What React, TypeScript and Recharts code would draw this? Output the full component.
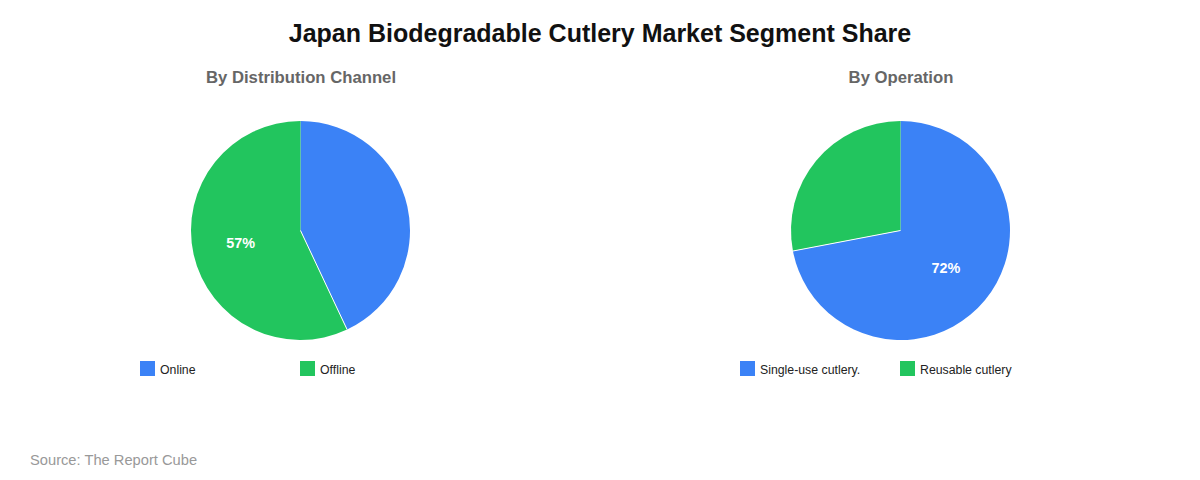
import { Cell, Legend, Pie, PieChart, Sector } from 'recharts';

const FONT = '"Liberation Sans", Arial, sans-serif';
const COLORS = ['#3B82F6', '#22C55E'];
const RADIAN = Math.PI / 180;

const channelNames = ['Online', 'Offline'];
const channelValues = [43, 57];
const operationNames = ['Single-use cutlery.', 'Reusable cutlery'];
const operationValues = [72, 28];

function toRows(names: string[], values: number[]) {
  return names.map((name, i) => ({ name, value: values[i] }));
}

// only the bigger slice carries a label
function renderLabel({ cx, cy, midAngle, outerRadius, percent }: any) {
  if (percent < 0.5) return null;
  const r = outerRadius * 0.55;
  return (
    <text
      x={cx + r * Math.cos(-midAngle * RADIAN) - 1}
      y={cy + r * Math.sin(-midAngle * RADIAN) - 0.5}
      fill="#fff"
      fontFamily={FONT}
      fontSize={14.4}
      fontWeight={700}
      textAnchor="middle"
      dominantBaseline="central"
    >
      {`${Math.round(percent * 100)}%`}
    </text>
  );
}

// white seam only where the second slice starts
function renderSlice(props: any) {
  const { cx, cy, outerRadius, startAngle, index } = props;
  return (
    <g>
      <Sector {...props} stroke="none" />
      {index === 1 && (
        <line
          x1={cx}
          y1={cy}
          x2={cx + outerRadius * Math.cos(-startAngle * RADIAN)}
          y2={cy + outerRadius * Math.sin(-startAngle * RADIAN)}
          stroke="#fff"
          strokeWidth={1}
        />
      )}
    </g>
  );
}

function renderLegend({ payload }: any) {
  return (
    <div style={{ display: 'flex', fontFamily: FONT, fontSize: 12.3, color: '#222' }}>
      {payload.map((item: any) => (
        <div key={item.value} style={{ width: 160, height: 15, display: 'flex', alignItems: 'center', whiteSpace: 'nowrap' }}>
          <span style={{ width: 15, height: 15, background: item.color, marginRight: 5, flex: 'none' }} />
          <span style={{ position: 'relative', top: 1 }}>{item.value}</span>
        </div>
      ))}
    </div>
  );
}

function SharePie({ title, names, values, left }: { title: string; names: string[]; values: number[]; left: number }) {
  return (
    <div style={{ position: 'absolute', left, top: 0, width: 600, height: 400 }}>
      <div
        style={{
          position: 'absolute',
          top: 68,
          left: 0,
          width: 602,
          textAlign: 'center',
          fontFamily: FONT,
          fontSize: 16.7,
          lineHeight: '20px',
          fontWeight: 700,
          color: '#666',
        }}
      >
        {title}
      </div>
      <PieChart width={600} height={400} margin={{ top: 0, right: 0, bottom: 0, left: 0 }}>
        <Pie
          data={toRows(names, values)}
          dataKey="value"
          nameKey="name"
          cx={300.5}
          cy={230.5}
          outerRadius={109.5}
          startAngle={90}
          endAngle={-270}
          stroke="none"
          label={renderLabel}
          labelLine={false}
          shape={renderSlice}
          isAnimationActive={false}
        >
          {names.map((name, i) => (
            <Cell key={name} fill={COLORS[i]} />
          ))}
        </Pie>
        <Legend
          content={renderLegend}
          itemSorter={null}
          wrapperStyle={{ position: 'absolute', left: 140, top: 361, width: 320, height: 15 }}
        />
      </PieChart>
    </div>
  );
}

export default function App() {
  return (
    <div style={{ position: 'absolute', left: 0, top: 0, width: 1200, height: 480, background: '#fff', overflow: 'hidden' }}>
      <div
        style={{
          position: 'absolute',
          top: 18,
          left: 0,
          width: 1200,
          textAlign: 'center',
          fontFamily: FONT,
          fontSize: 25,
          lineHeight: '30px',
          fontWeight: 700,
          color: '#111',
        }}
      >
        Japan Biodegradable Cutlery Market Segment Share
      </div>
      <SharePie title="By Distribution Channel" names={channelNames} values={channelValues} left={0} />
      <SharePie title="By Operation" names={operationNames} values={operationValues} left={600} />
      <div
        style={{
          position: 'absolute',
          left: 30,
          top: 452,
          fontFamily: FONT,
          fontSize: 14.7,
          lineHeight: '17px',
          color: '#999',
        }}
      >
        Source: The Report Cube
      </div>
    </div>
  );
}
